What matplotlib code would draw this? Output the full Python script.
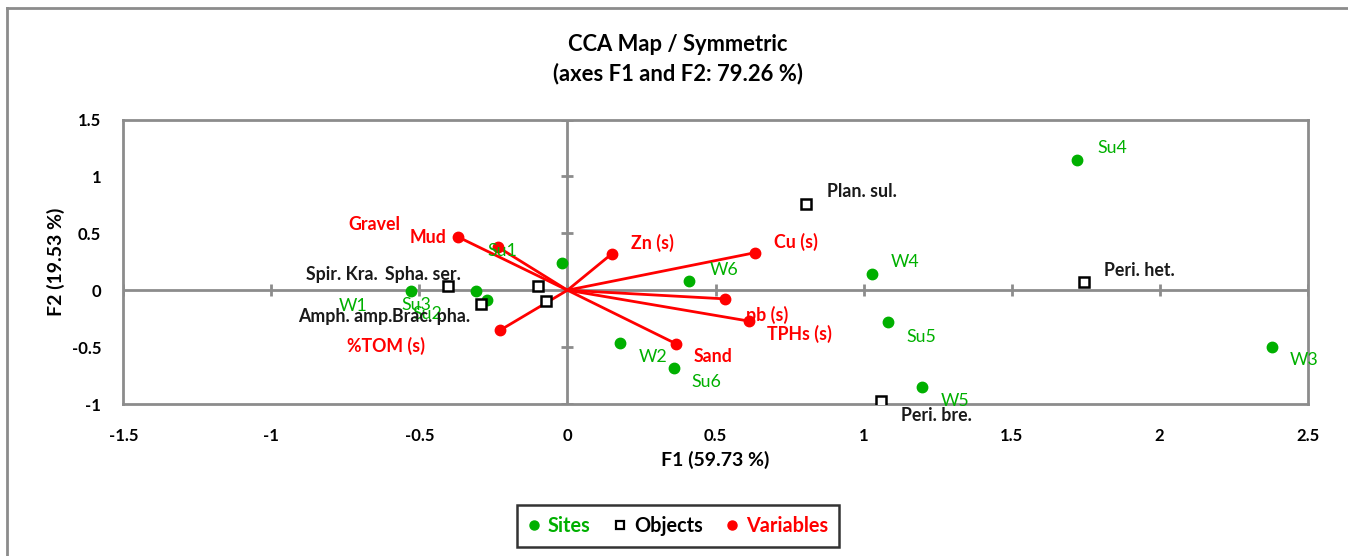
import matplotlib
matplotlib.use("Agg")
import matplotlib.pyplot as plt
from matplotlib.lines import Line2D

plt.rcParams['font.family'] = ['Lato', 'DejaVu Sans']

# ---- data ----
site_names = ["Su1", "Su2", "Su3", "Su4", "Su5", "Su6", "W1", "W2", "W3", "W4", "W5", "W6"]
site_f1 = [-0.017, -0.272, -0.308, 1.721, 1.081, 0.360, -0.528, 0.176, 2.379, 1.028, 1.198, 0.410]
site_f2 = [0.241, -0.082, -0.003, 1.140, -0.278, -0.685, -0.003, -0.462, -0.497, 0.138, -0.852, 0.083]

obj_names = ["Spir. Kra.", "Spha. ser.", "Amph. amp.", "Brac. pha.", "Plan. sul.", "Peri. het.", "Peri. bre."]
obj_f1 = [-0.402, -0.101, -0.291, -0.071, 0.807, 1.746, 1.059]
obj_f2 = [0.035, 0.035, -0.120, -0.097, 0.759, 0.070, -0.975]

var_names = ["Gravel", "Mud", "Zn (s)", "Cu (s)", "pb (s)", "TPHs (s)", "Sand", "%TOM (s)"]
var_f1 = [-0.236, -0.368, 0.150, 0.632, 0.531, 0.614, 0.367, -0.229]
var_f2 = [0.381, 0.466, 0.320, 0.329, -0.076, -0.272, -0.471, -0.354]

x_ticks = [-1.5, -1, -0.5, 0, 0.5, 1, 1.5, 2, 2.5]
y_ticks = [-1, -0.5, 0, 0.5, 1, 1.5]

# label offsets (pixels, label centre relative to point)
site_off = [(-60, 12), (-60, -14), (-60, -14), (35, 12), (34, -15), (32, -14),
            (-58, -15), (34, -14), (32, -13), (33, 12), (33, -14), (35, 11)]
obj_off = [(-107, 12), (-115, 12), (-136, -13), (-115, -15), (56, 12), (55, 12), (55, -14)]
var_off = [(-123, 22), (-30, 0), (41, 11), (41, 11), (42, -16), (50, -13), (37, -13), (-114, -15)]

GREEN = "#00B000"
RED = "#FF0000"
GRAY = "#8C8C8C"
LBL = 12.8

W, H = 1348, 556
fig = plt.figure(figsize=(W / 100, H / 100), dpi=100)
ax = fig.add_axes([123.3 / W, 1 - 404 / H, (1307.7 - 123.3) / W, (404 - 119.5) / H])

ax.set_xlim(-1.5, 2.5)
ax.set_ylim(-1, 1.5)
for s in ax.spines.values():
    s.set_color(GRAY)
    s.set_linewidth(2)
ax.set_xticks(x_ticks)
ax.set_yticks(y_ticks)
ax.set_xticklabels([f"{t:g}" for t in x_ticks])
ax.set_yticklabels([f"{t:g}" for t in y_ticks])
ax.tick_params(length=0, labelsize=12)
ax.tick_params(axis="x", pad=17)
ax.tick_params(axis="y", pad=16)
for lab in ax.get_xticklabels() + ax.get_yticklabels():
    lab.set_fontweight("bold")

# zero axes with crossing ticks
ax.axhline(0, color=GRAY, lw=2, zorder=1)
ax.axvline(0, color=GRAY, lw=2, zorder=1)
ax.plot(x_ticks, [0] * len(x_ticks), ls="none", marker="|", ms=9, mew=2, color=GRAY, zorder=1)
ax.plot([0] * len(y_ticks), y_ticks, ls="none", marker="_", ms=9, mew=2, color=GRAY, zorder=1)

# variable arrows
for vx, vy in zip(var_f1, var_f2):
    ax.plot([0, vx], [0, vy], color=RED, lw=2, zorder=2, solid_capstyle="round")

ax.plot(site_f1, site_f2, ls="none", marker="o", ms=7.5, color=GREEN, mec=GREEN, zorder=3)
ax.plot(obj_f1, obj_f2, ls="none", marker="s", ms=6.5, mfc="white", mec="black", mew=1.8, zorder=3)
ax.plot(var_f1, var_f2, ls="none", marker="o", ms=7.5, color=RED, mec=RED, zorder=3)

for n, x, y, o in zip(site_names, site_f1, site_f2, site_off):
    ax.annotate(n, (x, y), xytext=o, textcoords="offset pixels", ha="center", va="center",
                color=GREEN, fontsize=LBL, zorder=4, annotation_clip=False)
for n, x, y, o in zip(var_names, var_f1, var_f2, var_off):
    ax.annotate(n, (x, y), xytext=o, textcoords="offset pixels", ha="center", va="center",
                color=RED, fontsize=LBL, fontweight="bold", zorder=4, annotation_clip=False)
for n, x, y, o in zip(obj_names, obj_f1, obj_f2, obj_off):
    ax.annotate(n, (x, y), xytext=o, textcoords="offset pixels", ha="center", va="center",
                color="#1a1a1a", fontsize=LBL, fontweight="bold", zorder=5, annotation_clip=False)

# titles / labels
fig.text(678 / W, 1 - 45 / H, "CCA Map / Symmetric", ha="center", va="center",
         fontsize=15.8, fontweight="bold")
fig.text(678 / W, 1 - 74 / H, "(axes F1 and F2: 79.26 %)", ha="center", va="center",
         fontsize=15.8, fontweight="bold")
fig.text(715 / W, 1 - 460 / H, "F1 (59.73 %)", ha="center", va="center",
         fontsize=14, fontweight="bold")
fig.text(56 / W, 1 - 262 / H, "F2 (19.53 %)", ha="center", va="center", rotation=90,
         fontsize=14, fontweight="bold")

# outer chart border (left and top visible)
fig.add_artist(Line2D([6.5 / W, 6.5 / W], [0, 1 - 7.5 / H], color=GRAY, lw=2, transform=fig.transFigure))
fig.add_artist(Line2D([6.5 / W, 1], [1 - 7.5 / H, 1 - 7.5 / H], color=GRAY, lw=2, transform=fig.transFigure))

# legend
handles = [
    Line2D([], [], ls="none", marker="o", ms=6.5, color=GREEN),
    Line2D([], [], ls="none", marker="s", ms=6, mfc="white", mec="black", mew=1.6),
    Line2D([], [], ls="none", marker="o", ms=6.5, color=RED),
]
leg = fig.legend(handles, ["Sites", "Objects", "Variables"], loc="center",
                 bbox_to_anchor=(678 / W, 1 - 526 / H), ncol=3, frameon=True,
                 fancybox=False, edgecolor="black", handlelength=0.6, handletextpad=0.4,
                 columnspacing=1.2, borderpad=0.55, labelcolor=[GREEN, "black", RED],
                 prop={"weight": "bold", "size": 14.3})
leg.get_frame().set_linewidth(1.8)

fig.savefig("out.png", dpi=100)
